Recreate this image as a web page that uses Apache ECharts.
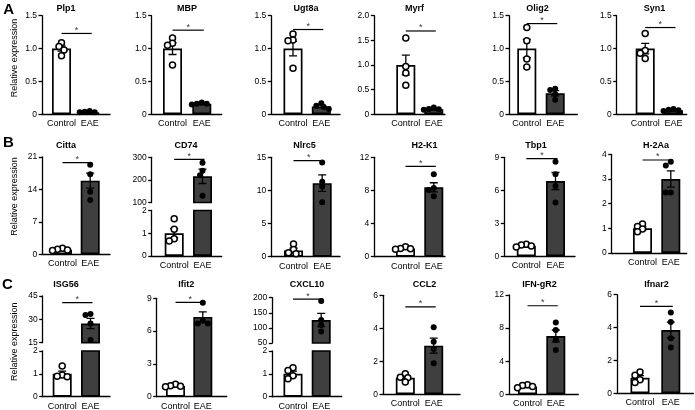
<!DOCTYPE html>
<html><head><meta charset="utf-8">
<script src="https://cdn.jsdelivr.net/npm/echarts@6/dist/echarts.min.js"></script>
<style>html,body{margin:0;padding:0;background:#fff}#c{width:695px;height:410px}</style>
</head><body><div id="c"></div>
<script>
// ---------------- DATA ----------------
const titles = ['Plp1','MBP','Ugt8a','Myrf','Olig2','Syn1',
                'Citta','CD74','Nlrc5','H2-K1','Tbp1','H-2Aa',
                'ISG56','Ifit2','CXCL10','CCL2','IFN-gR2','Ifnar2'];
const groupLabels = ['Control','EAE'];
const panelLabels = ['A','B','C'];
const yAxisName = 'Relative expression';
const sigText = '*';
// y axis (lower / only segment)
const yMax  = [1.5,1.5,1.5,2,1.5,1.5, 21,2,15,12,9,4, 2,9,2,6,12,6];
const yStep = [0.5,0.5,0.5,0.5,0.5,0.5, 7,1,5,4,3,1, 1,3,1,2,4,2];
// upper segment of broken axes (null = no break)
const upperMin  = [null,null,null,null,null,null, null,100,null,null,null,null, 15,null,50,null,null,null];
const upperMax  = [null,null,null,null,null,null, null,300,null,null,null,null, 45,null,200,null,null,null];
const upperStep = [null,null,null,null,null,null, null,100,null,null,null,null, 15,null,50,null,null,null];
const ctrlMean = [1.0,1.0,1.0,1.0,1.0,1.0, 1.0,1.0,0.95,1.0,0.95,1.0, 1.0,0.98,1.0,1.0,0.95,0.95];
const ctrlSem  = [0.04,0.09,0.11,0.2,0.14,0.08, 0.1,0.2,0.35,0.07,0.06,0.06, 0.12,0.05,0.12,0.1,0.08,0.13];
const ctrlPts = [
  [1.09,1.03,0.98,0.89],[1.16,1.08,1.05,0.75],[1.22,1.13,1.12,0.70],
  [1.55,0.97,0.84,0.59],[1.32,1.12,0.84,0.72],[1.23,0.97,0.93,0.85],
  [1.3,1.1,0.95,0.8],[1.64,1.18,0.76,0.66],[1.9,1.1,0.6,0.45],
  [1.2,1.0,0.95,0.9],[1.09,1.03,0.94,0.85],[1.18,1.07,0.97,0.86],
  [1.34,0.95,0.9,0.87],[1.15,1.0,0.95,0.9],[1.27,1.15,0.92,0.79],
  [1.25,1.03,1.0,0.75],[1.15,1.05,0.95,0.8],[1.3,1.1,0.83,0.65]
];
const eaeMean = [0.03,0.16,0.12,0.1,0.32,0.06, 15.9,216,11.1,8.38,6.84,3.0, 27.3,7.3,126,2.95,7.05,3.85];
const eaeSem  = [0.005,0.01,0.02,0.01,0.04,0.01, 1.6,32,1.25,0.55,0.78,0.33, 3.3,0.45,22,0.46,0.72,0.48];
const eaePts = [
  [0.05,0.04,0.03,0.03],[0.18,0.16,0.16,0.15],[0.17,0.13,0.11,0.08],
  [0.14,0.11,0.1,0.09],[0.39,0.37,0.31,0.22],[0.08,0.07,0.06,0.05],
  [19.35,17.3,13.5,11.7],[276,241,221,130],[14.2,11.3,10.6,8.2],
  [9.95,8.3,8.05,7.3],[8.6,7.45,6.4,4.9],[3.7,3.55,2.45,2.45],
  [33.4,32.8,27.4,16.7],[8.6,6.95,6.7,6.7],[189,126,110,88],
  [4.06,3.19,2.75,1.88],[8.67,7.77,6.57,5.36],[4.92,4.34,3.35,2.78]
];
const sigY = [1.23,1.28,1.29,1.69,1.38,1.32, 19.8,291,14.5,10.9,8.88,3.77, 40.7,8.63,195,5.3,10.7,5.29];

// ---------------- LAYOUT (px) ----------------
// [axisX, axisWidth, ctrlCenter, eaeCenter, top, bottom, breakTop, breakBottom]
const layout = [
  [42,68,19.5,47.7,15.7,114.3],
  [151.7,70,20.8,50.1,15.7,114.3],
  [271.3,68.7,21.7,50,15.7,114.3],
  [374.3,70.7,31.5,59.5,15.7,114.3],
  [509,68.3,17.8,46.2,15.7,114.3],
  [616.7,70,28.5,56.8,15.7,114.3],
  [42.3,67.7,20.2,47.9,157,254.3],
  [151.7,70,22.5,50.8,157.3,256,202.5,210.5],
  [271.3,68.7,22.2,50.9,157.3,256.7],
  [374.3,70.7,31.2,59.5,157.3,256.7],
  [504.3,70.7,22,51.2,157.3,256.3],
  [611.7,75,30.8,59.1,154.3,253],
  [42.7,67.3,19.5,47.8,296,396.7,342.7,351],
  [156.7,70,18.8,46.1,298.3,396.7],
  [272.3,69.4,20.7,48.9,297.7,396.7,343,351],
  [383,77,22.3,50.7,295.3,394.3],
  [509,69.3,18.5,46.8,295,394.3],
  [617,76.3,23,53.8,294.7,393.3]
];
const titlePos = [
  [66,8.3],[187,8.3],[306,8.3],[414.5,8.3],[537.5,8.3],[654.5,8.3],
  [66,145.5],[186,145.5],[304.5,145.5],[424.5,145.5],[536,145.5],[656,145.5],
  [66,284.5],[186.3,284.5],[307,284.5],[424.5,284.5],[539.5,284.5],[656.5,284.5]
];
const panelPos = [[8.7,10],[8.5,143],[7.5,285]];
const yNamePos = [[14.5,58],[14.5,196.5],[14.5,341.7]];

const FONT = '"Liberation Sans", Arial, sans-serif';
const grids = [], xAxes = [], yAxes = [], series = [], graphics = [];

function swarm(vals, center, pxPerUnit) {
  const cands = [0,-2.5,2.5,-5,5,-7.5,7.5,-10,10];
  const placed = [];
  vals.forEach(v => {
    const py = v * pxPerUnit;
    let off = 0;
    for (const c of cands) {
      if (placed.every(p => Math.hypot(p.off - c, p.py - py) >= 4.6)) { off = c; break; }
    }
    placed.push({off, py, v});
  });
  return placed.map(p => [center + p.off, p.v]);
}

const errRender = (params, api) => {
  const x = api.value(0), m = api.value(1), s = api.value(2);
  const t = api.coord([x, m + s]), b = api.coord([x, m - s]);
  const hw = 4, st = {stroke:'#000', lineWidth:1.3};
  return {type:'group', children:[
    {type:'line', shape:{x1:t[0],y1:t[1],x2:b[0],y2:b[1]}, style:st},
    {type:'line', shape:{x1:t[0]-hw,y1:t[1],x2:t[0]+hw,y2:t[1]}, style:st},
    {type:'line', shape:{x1:b[0]-hw,y1:b[1],x2:b[0]+hw,y2:b[1]}, style:st}
  ]};
};

titles.forEach((name, i) => {
  const [ax, W, c1, c2, top, bottom, bTop, bBot] = layout[i];
  const broken = upperMin[i] != null;
  const segs = broken ? [
    {top, bottom:bTop, min:upperMin[i], max:upperMax[i], step:upperStep[i], first:true, last:false},
    {top:bBot, bottom, min:0, max:yMax[i], step:yStep[i], first:false, last:true}
  ] : [{top, bottom, min:0, max:yMax[i], step:yStep[i], first:true, last:true}];

  segs.forEach(seg => {
    const gi = grids.length;
    const h = seg.bottom - seg.top;
    const ppu = h / (seg.max - seg.min);
    const inR = v => v >= seg.min && v <= seg.max;
    grids.push({left:ax, top:seg.top, width:W, height:h, containLabel:false, outerBoundsMode:'none'});
    xAxes.push({
      gridIndex:gi, type:'value', min:0, max:W, show:seg.last,
      splitLine:{show:false},
      axisLine:{show:true, onZero:false, lineStyle:{color:'#000', width:1.3}},
      axisTick:{show:false},
      axisLabel:{show:true, customValues:[c1, c2], margin:5, color:'#000', fontSize:9, fontFamily:FONT,
                 formatter: v => (v < W/2 ? groupLabels[0] : groupLabels[1])}
    });
    const st = seg.step;
    yAxes.push({
      gridIndex:gi, type:'value', min:seg.min, max:seg.max, interval:st,
      splitLine:{show:false},
      axisLine:{show:true, onZero:false, lineStyle:{color:'#000', width:1.3}},
      axisTick:{show:true, length:3.5, lineStyle:{color:'#000', width:1.3}},
      axisLabel:{margin:5, color:'#000', fontSize:8.5, fontFamily:FONT,
                 formatter: v => st < 1 ? (v === 0 ? '0' : v.toFixed(1)) : String(v)}
    });
    const barData = [];
    if (ctrlMean[i] > seg.min) barData.push({value:[c1, ctrlMean[i]], itemStyle:{color:'#ffffff'}});
    barData.push({value:[c2, eaeMean[i]], itemStyle:{color:'#3f3f3f'}});
    series.push({type:'bar', xAxisIndex:gi, yAxisIndex:gi, barWidth:19, clip:true, silent:true, z:2,
      itemStyle:{borderColor:'#000', borderWidth:1.7}, data:barData});
    const errData = [];
    if (inR(ctrlMean[i])) errData.push([c1, ctrlMean[i], ctrlSem[i]]);
    if (inR(eaeMean[i])) errData.push([c2, eaeMean[i], eaeSem[i]]);
    series.push({type:'custom', xAxisIndex:gi, yAxisIndex:gi, clip:true, silent:true, z:3,
      renderItem:errRender, data:errData});
    series.push({type:'scatter', xAxisIndex:gi, yAxisIndex:gi, symbol:'circle', symbolSize:6, silent:true, z:4,
      itemStyle:{color:'#ffffff', borderColor:'#000', borderWidth:1.5, opacity:1},
      data:swarm(ctrlPts[i].filter(inR), c1, ppu)});
    series.push({type:'scatter', xAxisIndex:gi, yAxisIndex:gi, symbol:'circle', symbolSize:6, silent:true, z:4,
      itemStyle:{color:'#000', opacity:1},
      data:swarm(eaePts[i].filter(inR), c2, ppu)});
    if (seg.first) {
      series.push({type:'line', xAxisIndex:gi, yAxisIndex:gi, symbol:'none', silent:true, z:4,
        lineStyle:{color:'#000', width:1.2}, data:[[c1, sigY[i]], [c2 + 2, sigY[i]]]});
      series.push({type:'scatter', xAxisIndex:gi, yAxisIndex:gi, symbolSize:0, silent:true, z:5,
        label:{show:true, position:'top', distance:-1.5, formatter:sigText, color:'#000', fontSize:9, fontFamily:FONT},
        labelLayout:{hideOverlap:false},
        data:[[(c1 + c2) / 2 + 1, sigY[i]]]});
    }
  });
  graphics.push({type:'text', x:titlePos[i][0], y:titlePos[i][1], silent:true,
    style:{text:name, fill:'#000', font:'bold 9px ' + FONT, align:'center', verticalAlign:'middle'}});
});

panelLabels.forEach((t, r) => {
  graphics.push({type:'text', x:panelPos[r][0], y:panelPos[r][1], silent:true,
    style:{text:t, fill:'#000', font:'bold 15px ' + FONT, align:'center', verticalAlign:'middle'}});
  graphics.push({type:'text', x:yNamePos[r][0], y:yNamePos[r][1], rotation:Math.PI/2, silent:true,
    style:{text:yAxisName, fill:'#000', font:'9px ' + FONT, align:'center', verticalAlign:'middle'}});
});

const chart = echarts.init(document.getElementById('c'), null, {renderer:'canvas'});
chart.setOption({
  animation:false,
  backgroundColor:'#fff',
  grid:grids, xAxis:xAxes, yAxis:yAxes, series:series, graphic:graphics
});
</script>
</body></html>
